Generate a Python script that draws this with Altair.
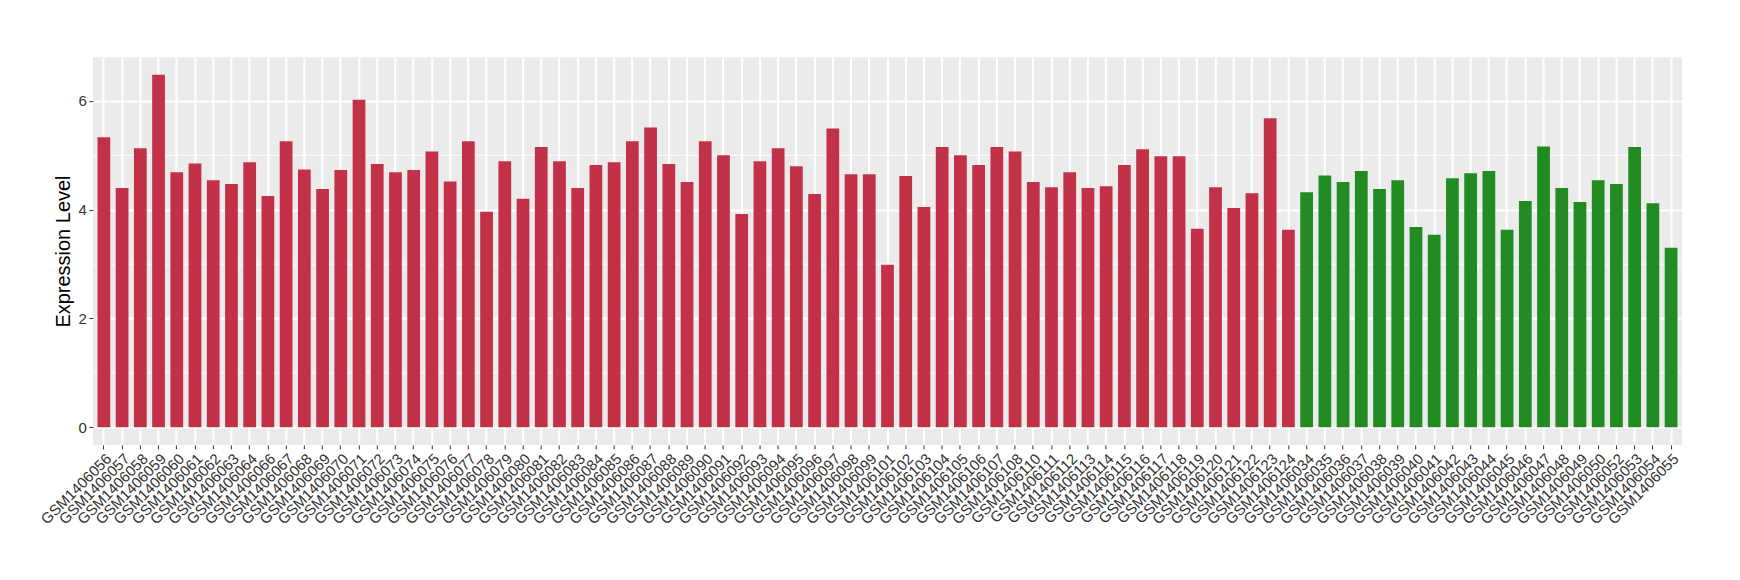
import altair as alt
import pandas as pd

red_samples = [
    "GSM1406056", "GSM1406057", "GSM1406058", "GSM1406059", "GSM1406060", "GSM1406061",
    "GSM1406062", "GSM1406063", "GSM1406064", "GSM1406066", "GSM1406067", "GSM1406068",
    "GSM1406069", "GSM1406070", "GSM1406071", "GSM1406072", "GSM1406073", "GSM1406074",
    "GSM1406075", "GSM1406076", "GSM1406077", "GSM1406078", "GSM1406079", "GSM1406080",
    "GSM1406081", "GSM1406082", "GSM1406083", "GSM1406084", "GSM1406085", "GSM1406086",
    "GSM1406087", "GSM1406088", "GSM1406089", "GSM1406090", "GSM1406091", "GSM1406092",
    "GSM1406093", "GSM1406094", "GSM1406095", "GSM1406096", "GSM1406097", "GSM1406098",
    "GSM1406099", "GSM1406101", "GSM1406102", "GSM1406103", "GSM1406104", "GSM1406105",
    "GSM1406106", "GSM1406107", "GSM1406108", "GSM1406110", "GSM1406111", "GSM1406112",
    "GSM1406113", "GSM1406114", "GSM1406115", "GSM1406116", "GSM1406117", "GSM1406118",
    "GSM1406119", "GSM1406120", "GSM1406121", "GSM1406122", "GSM1406123", "GSM1406124",
]
red_values = [
    5.33, 4.40, 5.13, 6.48, 4.69, 4.85,
    4.54, 4.47, 4.87, 4.25, 5.26, 4.74,
    4.38, 4.73, 6.02, 4.84, 4.69, 4.73,
    5.07, 4.52, 5.26, 3.96, 4.89, 4.20,
    5.15, 4.89, 4.40, 4.82, 4.87, 5.26,
    5.51, 4.84, 4.51, 5.26, 5.00, 3.92,
    4.89, 5.13, 4.80, 4.29, 5.49, 4.65,
    4.65, 2.99, 4.62, 4.05, 5.15, 5.00,
    4.82, 5.15, 5.07, 4.51, 4.41, 4.69,
    4.40, 4.43, 4.82, 5.11, 4.98, 4.98,
    3.65, 4.41, 4.03, 4.30, 5.68, 3.63,
]
green_samples = [
    "GSM1406034", "GSM1406035", "GSM1406036", "GSM1406037", "GSM1406038", "GSM1406039",
    "GSM1406040", "GSM1406041", "GSM1406042", "GSM1406043", "GSM1406044", "GSM1406045",
    "GSM1406046", "GSM1406047", "GSM1406048", "GSM1406049", "GSM1406050", "GSM1406052",
    "GSM1406053", "GSM1406054", "GSM1406055",
]
green_values = [
    4.32, 4.63, 4.51, 4.71, 4.38, 4.54,
    3.68, 3.54, 4.58, 4.67, 4.71, 3.63,
    4.16, 5.16, 4.40, 4.14, 4.54, 4.47,
    5.15, 4.12, 3.30,
]
y_ticks = [0, 2, 4, 6]
y_minor = [1, 3, 5]

df = pd.DataFrame({
    "sample": red_samples + green_samples,
    "value": red_values + green_values,
    "group": ["A"] * len(red_samples) + ["B"] * len(green_samples),
})
order = red_samples + green_samples
minor_df = pd.DataFrame({"v": y_minor})

FONT = "Liberation Sans"

ydom = [-0.324, 6.804]

minor_rules = alt.Chart(minor_df).mark_rule(color="white", strokeWidth=1).encode(
    y=alt.Y("v:Q", scale=alt.Scale(domain=ydom, nice=False, zero=False))
)

bars = alt.Chart(df).mark_bar().encode(
    x=alt.X(
        "sample:N",
        sort=order,
        title=None,
        scale=alt.Scale(paddingInner=0.3, paddingOuter=0.25),
        axis=alt.Axis(
            labelAngle=-45, labelAlign="right", labelBaseline="top",
            labelFontSize=15, labelColor="#333333", labelFont=FONT,
            tickColor="#333333", tickSize=4, tickWidth=1,
            domain=False, grid=True, gridColor="white", gridWidth=2,
            bandPosition=0.5, labelPadding=2, labelOverlap=False, labelLimit=0,
        ),
    ),
    y=alt.Y(
        "value:Q",
        scale=alt.Scale(domain=ydom, nice=False, zero=False),
        axis=alt.Axis(
            values=y_ticks, title="Expression Level", titleFontSize=20,
            titleFont=FONT, titleFontWeight="normal", titleColor="black",
            grid=True, gridColor="white", gridWidth=2, domain=False,
            tickColor="#333333", tickSize=4, tickWidth=1,
            labelFontSize=15, labelFont=FONT, labelColor="#333333",
            labelPadding=2.5, titlePadding=5,
        ),
    ),
    y2=alt.datum(0),
    color=alt.Color(
        "group:N",
        scale=alt.Scale(domain=["A", "B"], range=["#C33149", "#228B22"]),
        legend=None,
    ),
)

chart = alt.layer(minor_rules, bars).properties(
    width=1590,
    height=388,
    autosize=alt.AutoSizeParams(type="none"),
    padding={"left": 85, "top": 49, "right": 50, "bottom": 135},
).configure_view(fill="#EBEBEB", strokeWidth=0)

chart.save("out.html", embed_options={"renderer": "svg", "actions": False})
